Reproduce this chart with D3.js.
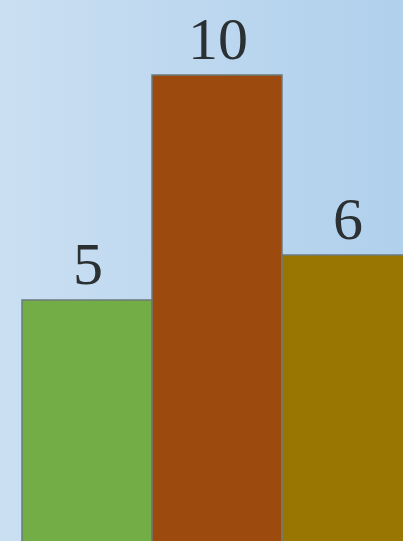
<!DOCTYPE html>
<html>
<head>
<meta charset="utf-8">
<script src="https://cdn.jsdelivr.net/npm/d3@7"></script>
<style>
  html, body { margin: 0; padding: 0; overflow: hidden; }
  svg { display: block; }
</style>
</head>
<body>
<div id="chart"></div>
<script>
// chart data
const categories = ["A", "B", "C"];
const values = [5, 10, 6];
const colors = ["#73ad46", "#9c4a0e", "#997502"];

const width = 403;
const height = 541;

const svg = d3
  .select("#chart")
  .append("svg")
  .attr("width", width)
  .attr("height", height);

// background gradient, light blue left to slightly deeper blue right
const defs = svg.append("defs");
const bg = defs
  .append("linearGradient")
  .attr("id", "bg")
  .attr("x1", "0%")
  .attr("x2", "100%")
  .attr("y1", "0%")
  .attr("y2", "0%");
bg.append("stop").attr("offset", "0%").attr("stop-color", "#cadff2");
bg.append("stop").attr("offset", "100%").attr("stop-color", "#b0d0ec");

svg
  .append("rect")
  .attr("width", width)
  .attr("height", height)
  .attr("fill", "url(#bg)");

// the view is a crop: bars run past the bottom and right edges
const x = d3
  .scaleBand()
  .domain(categories)
  .range([22, 412])
  .padding(0);

const y = d3.scaleLinear().domain([0, 10]).range([525, 75]);

svg
  .append("g")
  .selectAll("rect")
  .data(values)
  .join("rect")
  .attr("x", (d, i) => x(categories[i]))
  .attr("y", (d) => y(d))
  .attr("width", x.bandwidth())
  .attr("height", (d) => height + 10 - y(d))
  .attr("fill", (d, i) => colors[i])
  .attr("stroke", "#6c7b7c")
  .attr("stroke-width", 1.5);

// value labels above bars
svg
  .append("g")
  .selectAll("text")
  .data(values)
  .join("text")
  .attr("x", (d, i) => x(categories[i]) + x.bandwidth() / 2 + 1)
  .attr("y", (d) => y(d) - 16)
  .attr("text-anchor", "middle")
  .attr("font-family", "'Liberation Serif', 'DejaVu Serif', serif")
  .attr("font-size", 60)
  .attr("fill", "#2b3033")
  .text((d) => d);
</script>
</body>
</html>
